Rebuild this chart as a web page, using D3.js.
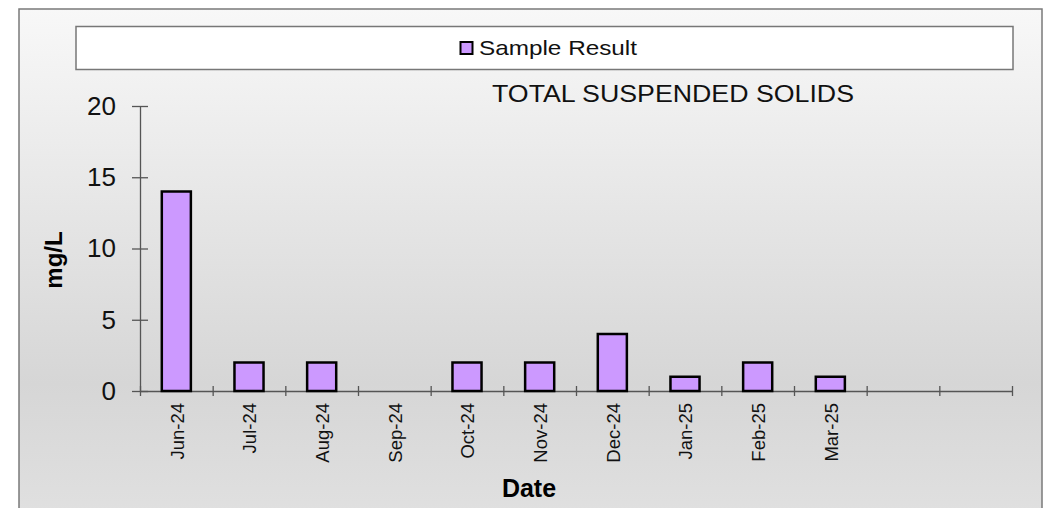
<!DOCTYPE html>
<html>
<head>
<meta charset="utf-8">
<script src="https://cdn.jsdelivr.net/npm/d3@7"></script>
<style>
  html, body { margin: 0; padding: 0; background: #fff; }
  svg { display: block; font-family: "Liberation Sans", Arial, sans-serif; }
</style>
</head>
<body>
<div class="chart"></div>
<script>
'use strict';

// Data
const months = ['Jun-24', 'Jul-24', 'Aug-24', 'Sep-24', 'Oct-24', 'Nov-24',
                'Dec-24', 'Jan-25', 'Feb-25', 'Mar-25', '', ''];
const results = [14, 2, 2, null, 2, 2, 4, 1, 2, 1, null, null];
const yTicks = [0, 5, 10, 15, 20];

const seriesName = 'Sample Result';
const title = 'TOTAL SUSPENDED SOLIDS';
const yLabel = 'mg/L';
const xLabel = 'Date';

// Initialize
const w = 1046;
const h = 508;
const plot = { left: 140, right: 1012, top: 106, bottom: 391 };
const barColor = '#cc99ff';
const axisColor = '#555';

const svg = d3.select('.chart')
              .append('svg')
              .attr('width', w)
              .attr('height', h);

// Background gradient
const grad = svg.append('defs')
  .append('linearGradient')
  .attr('id', 'bg')
  .attr('x1', 0).attr('y1', 0)
  .attr('x2', 0).attr('y2', 1);
grad.append('stop').attr('offset', '0%').attr('stop-color', '#f8f8f8');
grad.append('stop').attr('offset', '72%').attr('stop-color', '#d6d6d6');
grad.append('stop').attr('offset', '100%').attr('stop-color', '#e1e1e1');

svg.append('rect')
  .attr('x', 19)
  .attr('y', 9)
  .attr('width', 1023)
  .attr('height', 520)
  .attr('fill', 'url(#bg)')
  .attr('stroke', '#7a7a7a')
  .attr('stroke-width', 1.5);

// Legend
svg.append('rect')
  .attr('x', 76)
  .attr('y', 26.5)
  .attr('width', 937)
  .attr('height', 43)
  .attr('fill', '#fff')
  .attr('stroke', '#777')
  .attr('stroke-width', 1.5);

svg.append('rect')
  .attr('x', 460.5)
  .attr('y', 42)
  .attr('width', 12)
  .attr('height', 12)
  .attr('fill', barColor)
  .attr('stroke', '#000')
  .attr('stroke-width', 2);

svg.append('text')
  .attr('x', 479)
  .attr('y', 55)
  .attr('font-size', 21)
  .attr('textLength', 158)
  .attr('lengthAdjust', 'spacingAndGlyphs')
  .attr('fill', '#111')
  .text(seriesName);

// Title
svg.append('text')
  .attr('x', 492)
  .attr('y', 101.5)
  .attr('font-size', 24)
  .attr('textLength', 362)
  .attr('lengthAdjust', 'spacingAndGlyphs')
  .attr('fill', '#111')
  .text(title);

// Scales
const xScale = d3.scaleBand()
  .domain(d3.range(months.length))
  .range([plot.left, plot.right])
  .paddingInner(0.6)
  .paddingOuter(0.3);

// category boundaries, for the tick marks
const xEdge = d3.scaleLinear()
  .domain([0, months.length])
  .range([plot.left, plot.right]);

const yScale = d3.scaleLinear()
  .domain([0, 20])
  .range([plot.bottom, plot.top]);

// Axes
const yAxis = d3.axisLeft(yScale)
  .tickValues(yTicks)
  .tickSize(8)
  .tickSizeOuter(0)
  .tickPadding(16);

const gy = svg.append('g')
  .attr('transform', `translate(${plot.left}, 0)`)
  .call(yAxis);
gy.selectAll('.tick line').attr('x2', -8).attr('x1', 8);
gy.selectAll('.tick text')
  .attr('font-size', 26)
  .attr('font-family', '"Liberation Sans", Arial, sans-serif')
  .attr('fill', '#111');

const xTicks = d3.axisBottom(xEdge)
  .tickValues(d3.range(months.length + 1))
  .tickSize(5)
  .tickSizeOuter(0)
  .tickFormat('');

const gx = svg.append('g')
  .attr('transform', `translate(0, ${plot.bottom})`)
  .call(xTicks);
gx.selectAll('.tick line').attr('y1', -5);

const xAxis = d3.axisBottom(xScale)
  .tickSize(0)
  .tickFormat(i => months[i]);

const gl = svg.append('g')
  .attr('transform', `translate(0, ${plot.bottom})`)
  .call(xAxis);
gl.select('.domain').remove();
gl.selectAll('.tick text')
  .attr('font-size', 18.5)
  .attr('font-family', '"Liberation Sans", Arial, sans-serif')
  .attr('fill', '#111')
  .attr('text-anchor', 'end')
  .attr('transform', 'rotate(-90)')
  .attr('x', -12)
  .attr('y', 0)
  .attr('dy', '0.4em');

[gy, gx].forEach(g => {
  g.selectAll('.domain, .tick line')
    .attr('stroke', axisColor)
    .attr('stroke-width', 1.3);
});

// Bars (skip months with no result)
const withResult = d3.range(results.length).filter(i => results[i] !== null);

svg.selectAll('rect.bar')
  .data(withResult)
  .enter()
  .append('rect')
  .attr('class', 'bar')
  .attr('x', i => xScale(i))
  .attr('y', i => yScale(results[i]))
  .attr('width', xScale.bandwidth())
  .attr('height', i => plot.bottom - yScale(results[i]))
  .attr('fill', barColor)
  .attr('stroke', '#000')
  .attr('stroke-width', 2.5);

// Axis titles
svg.append('text')
  .attr('transform', 'translate(62, 260) rotate(-90)')
  .attr('text-anchor', 'middle')
  .attr('font-size', 24)
  .attr('font-weight', 'bold')
  .attr('fill', '#000')
  .text(yLabel);

svg.append('text')
  .attr('x', 529)
  .attr('y', 497)
  .attr('text-anchor', 'middle')
  .attr('font-size', 25)
  .attr('font-weight', 'bold')
  .attr('fill', '#000')
  .text(xLabel);
</script>
</body>
</html>
